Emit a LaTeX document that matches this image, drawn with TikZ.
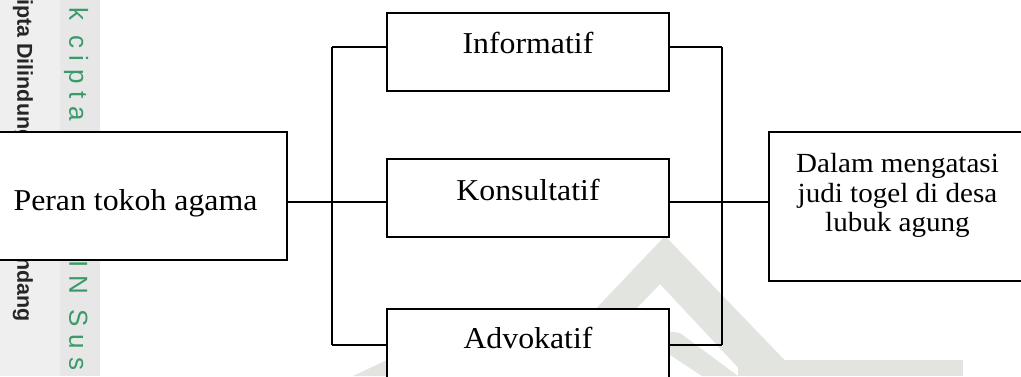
\documentclass[tikz,border=0pt]{standalone}
\usepackage{fontspec}
\setmainfont{Liberation Serif}[FakeStretch=1.05]
\newfontfamily\wmsans{Liberation Sans}
\newfontfamily\wmspaced{Liberation Sans}[LetterSpace=30]
\definecolor{wmlight}{HTML}{EFEFEF}
\definecolor{wmgray}{HTML}{E6E7E6}
\definecolor{wmshape}{HTML}{E2E4DF}
\definecolor{wmgreen}{HTML}{3A9A6A}
\begin{document}
\begin{tikzpicture}[x=1pt,y=-1pt,
  box/.style={draw=black, line width=1.7pt, fill=white, inner sep=0pt},
  lbl/.style={inner sep=0pt, font=\fontsize{30.3}{36}\selectfont},
  lbls/.style={inner sep=0pt, font=\fontsize{27.7}{30}\selectfont},
  conn/.style={draw=black, line width=1.7pt}]
\useasboundingbox (0,0) rectangle (1021,376);
\clip (0,0) rectangle (1021,376);
\fill[white] (0,0) rectangle (1021,376);
% watermark background
\fill[wmlight] (0,0) rectangle (60,376);
\fill[wmgray] (60,0) rectangle (100,376);
\node[rotate=-90, anchor=west, inner sep=0pt, text=black!85,
  font=\wmsans\bfseries\fontsize{21.5}{23}\selectfont] (wmA) at (23,-62) {Hak Cipta Dilindungi Undang-Undang};
\node[rotate=-90, anchor=west, inner sep=0pt, text=wmgreen,
  font=\wmspaced\fontsize{26}{28}\selectfont] (wmB) at (76,-42) {Hak cipta milik UIN Suska Riau};
% watermark logo
\fill[wmshape] (532,376) -- (665,236) -- (800,376) -- (746,376) -- (660,284) -- (572,376) -- cycle;
\fill[wmshape] (658,330) -- (680,333) -- (738,376) -- (702,376) -- (658,347) -- cycle;
\fill[wmshape] (738,360) rectangle (963,376);
\fill[wmshape] (353,376) -- (387,360) -- (387,376) -- cycle;
% boxes
\node[box, minimum width=299, minimum height=128] (P) at (137.5,196) {};
\node[lbl, anchor=base] (Pt) at (135.5,210) {Peran tokoh agama};
\node[box, minimum width=282, minimum height=78] (I) at (528,52) {};
\node[lbl, anchor=base] (It) at (528,53) {Informatif};
\node[box, minimum width=282, minimum height=78] (K) at (528,198) {};
\node[lbl, anchor=base] (Kt) at (528,200) {Konsultatif};
\node[box, minimum width=282, minimum height=78] (A) at (528,348) {};
\node[lbl, anchor=base] (At) at (528,348) {Advokatif};
\node[box, minimum width=257, minimum height=149] (R) at (897.5,206.5) {};
\node[lbls, anchor=base] (R1) at (897.5,172) {Dalam mengatasi};
\node[lbls, anchor=base] (R2) at (897.5,202) {judi togel di desa};
\node[lbls, anchor=base] (R3) at (897.5,231) {lubuk agung};
% bus coordinates
\coordinate (lt) at (332,47);
\coordinate (lm) at (332,202);
\coordinate (lb) at (332,345);
\coordinate (rt) at (722,47);
\coordinate (rm) at (722,202);
\coordinate (rb) at (722,345);
% connectors
\draw[conn] (lt) -- (lb);
\draw[conn] (rt) -- (rb);
\draw[conn] (P.east |- lm) -- (K.west |- lm);
\draw[conn] (lt) -- (I.west |- lt);
\draw[conn] (lb) -- (A.west |- lb);
\draw[conn] (I.east |- rt) -- (rt);
\draw[conn] (A.east |- rb) -- (rb);
\draw[conn] (K.east |- rm) -- (R.west |- rm);
\end{tikzpicture}
\end{document}
